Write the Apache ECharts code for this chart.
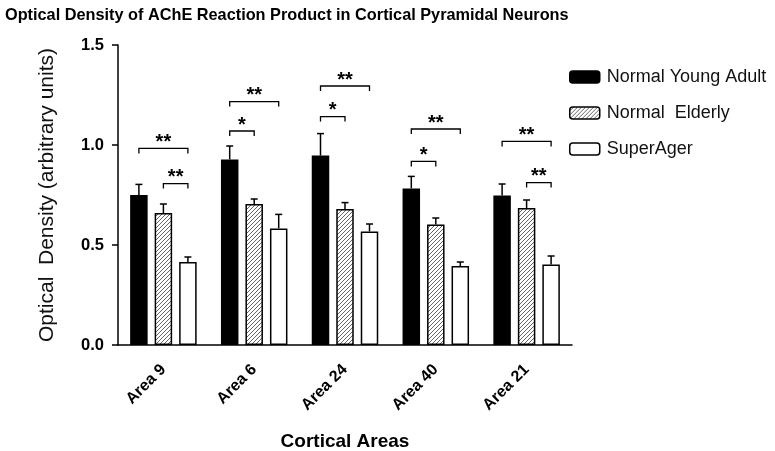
<!DOCTYPE html>
<html>
<head>
<meta charset="utf-8">
<script src="https://cdn.jsdelivr.net/npm/echarts@6/dist/echarts.min.js"></script>
<style>html,body{margin:0;padding:0;background:#fff}#c{width:775px;height:451px}</style>
</head>
<body>
<div id="c"></div>
<script>
const categories = ['Area 9', 'Area 6', 'Area 24', 'Area 40', 'Area 21'];
const seriesNames = ['Normal Young Adult', 'Normal  Elderly', 'SuperAger'];
const youngAdult = [0.75, 0.928, 0.947, 0.783, 0.747];
const elderly = [0.66, 0.705, 0.68, 0.602, 0.685];
const superAger = [0.415, 0.583, 0.568, 0.395, 0.402];
// top of each error bar
const youngAdultErrTop = [0.803, 0.995, 1.057, 0.843, 0.805];
const elderlyErrTop = [0.705, 0.73, 0.712, 0.635, 0.725];
const superAgerErrTop = [0.44, 0.653, 0.605, 0.415, 0.445];
// significance brackets: [category index, from series, to series, height, label]
const brackets = [
  [0, 0, 2, 0.983, '**'], [0, 1, 2, 0.807, '**'],
  [1, 0, 2, 1.217, '**'], [1, 0, 1, 1.07, '*'],
  [2, 0, 2, 1.295, '**'], [2, 0, 1, 1.142, '*'],
  [3, 0, 2, 1.08, '**'], [3, 0, 1, 0.918, '*'],
  [4, 0, 2, 1.018, '**'], [4, 1, 2, 0.812, '**']
];
const yTicks = [0, 0.5, 1.0, 1.5];

const FONT = 'Arial, "Liberation Sans", sans-serif';
const BAR_W = 17.5, GAP = 7, STEP = BAR_W + GAP;
function offsetOf(s) { return (s - 1) * STEP; }

// hatch pattern
const pc = document.createElement('canvas');
pc.width = 4; pc.height = 4;
const g = pc.getContext('2d');
g.fillStyle = '#fff'; g.fillRect(0, 0, 4, 4);
g.strokeStyle = '#666'; g.lineWidth = 1;
g.beginPath();
g.moveTo(-1, 5); g.lineTo(5, -1);
g.moveTo(-1, 1); g.lineTo(1, -1);
g.moveTo(3, 5); g.lineTo(5, 3);
g.stroke();
const hatch = { image: pc, repeat: 'repeat' };

const values = [youngAdult, elderly, superAger];
const errTops = [youngAdultErrTop, elderlyErrTop, superAgerErrTop];
const fills = ['#000', hatch, '#fff'];

const barSeries = values.map((v, s) => ({
  name: seriesNames[s],
  type: 'bar',
  data: v,
  barWidth: BAR_W,
  barGap: (GAP / BAR_W * 100) + '%',
  itemStyle: { color: fills[s], borderColor: '#000', borderWidth: 1.5 },
  emphasis: { disabled: true }
}));

const errData = [];
values.forEach((v, s) => v.forEach((val, i) => errData.push([i, val, errTops[s][i], s])));

const errSeries = {
  type: 'custom',
  silent: true,
  z: 1,
  data: errData,
  renderItem: function (params, api) {
    const i = api.value(0), s = api.value(3);
    const base = api.coord([i, api.value(1)]);
    const top = api.coord([i, api.value(2)]);
    const x = api.coord([i, 0])[0] + offsetOf(s);
    return {
      type: 'group',
      children: [
        { type: 'line', shape: { x1: x, y1: base[1], x2: x, y2: top[1] }, style: { stroke: '#000', lineWidth: 1.5 } },
        { type: 'line', shape: { x1: x - 3.5, y1: top[1], x2: x + 3.5, y2: top[1] }, style: { stroke: '#000', lineWidth: 1.5 } }
      ]
    };
  }
};

const bracketSeries = {
  type: 'custom',
  silent: true,
  data: brackets.map(b => [b[0], b[3], b[1], b[2], b[4]]),
  renderItem: function (params, api) {
    const i = api.value(0);
    const p = api.coord([i, api.value(1)]);
    const cx = api.coord([i, 0])[0];
    const x1 = cx + offsetOf(api.value(2)), x2 = cx + offsetOf(api.value(3));
    const y = p[1];
    return {
      type: 'group',
      children: [
        { type: 'polyline', shape: { points: [[x1, y + 5], [x1, y], [x2, y], [x2, y + 5]] }, style: { stroke: '#000', lineWidth: 1.3, fill: null } },
        { type: 'text', style: { text: brackets[params.dataIndex][4], x: (x1 + x2) / 2, y: y + 4, align: 'center', verticalAlign: 'bottom', font: 'bold 20px ' + FONT, fill: '#000' } }
      ]
    };
  }
};

const chart = echarts.init(document.getElementById('c'), null, { renderer: 'canvas' });
chart.setOption({
  animation: false,
  title: {
    text: 'Optical Density of AChE Reaction Product in Cortical Pyramidal Neurons',
    left: 0, top: 3,
    textStyle: { fontFamily: FONT, fontWeight: 'bold', fontSize: 16.3, color: '#000' }
  },
  legend: {
    data: seriesNames,
    orient: 'vertical',
    left: 564, top: 63,
    itemWidth: 30, itemHeight: 12, itemGap: 18,
    textStyle: { fontFamily: FONT, fontSize: 18, color: '#111', padding: [0, 0, 0, 2] },
    itemStyle: { borderColor: '#000', borderWidth: 1.5 },
    selectedMode: false
  },
  grid: { left: 118, right: 203, top: 45, bottom: 106, containLabel: false, outerBoundsMode: 'none' },
  xAxis: {
    type: 'category',
    data: categories,
    axisLine: { lineStyle: { color: '#000', width: 1.5 } },
    axisTick: { alignWithLabel: true, length: 6, lineStyle: { color: '#000', width: 1.5 } },
    axisLabel: { rotate: 45, fontFamily: FONT, fontWeight: 'bold', fontSize: 16, color: '#000', margin: 22 },
    name: 'Cortical Areas',
    nameLocation: 'middle',
    nameGap: 87,
    nameTextStyle: { fontFamily: FONT, fontWeight: 'bold', fontSize: 19, color: '#000' }
  },
  yAxis: {
    type: 'value',
    min: 0, max: 1.5, interval: 0.5,
    axisLine: { show: true, lineStyle: { color: '#000', width: 1.5 } },
    axisTick: { show: true, length: 6, lineStyle: { color: '#000', width: 1.5 } },
    splitLine: { show: false },
    axisLabel: { fontFamily: FONT, fontWeight: 'bold', fontSize: 16.5, color: '#000', margin: 14,
      formatter: v => yTicks.indexOf(v) >= 0 ? v.toFixed(1) : '' },
    name: 'Optical  Density (arbitrary units)',
    nameLocation: 'middle',
    nameGap: 60,
    nameTextStyle: { fontFamily: FONT, fontSize: 21, color: '#111' }
  },
  series: barSeries.concat([errSeries, bracketSeries])
});
</script>
</body>
</html>
